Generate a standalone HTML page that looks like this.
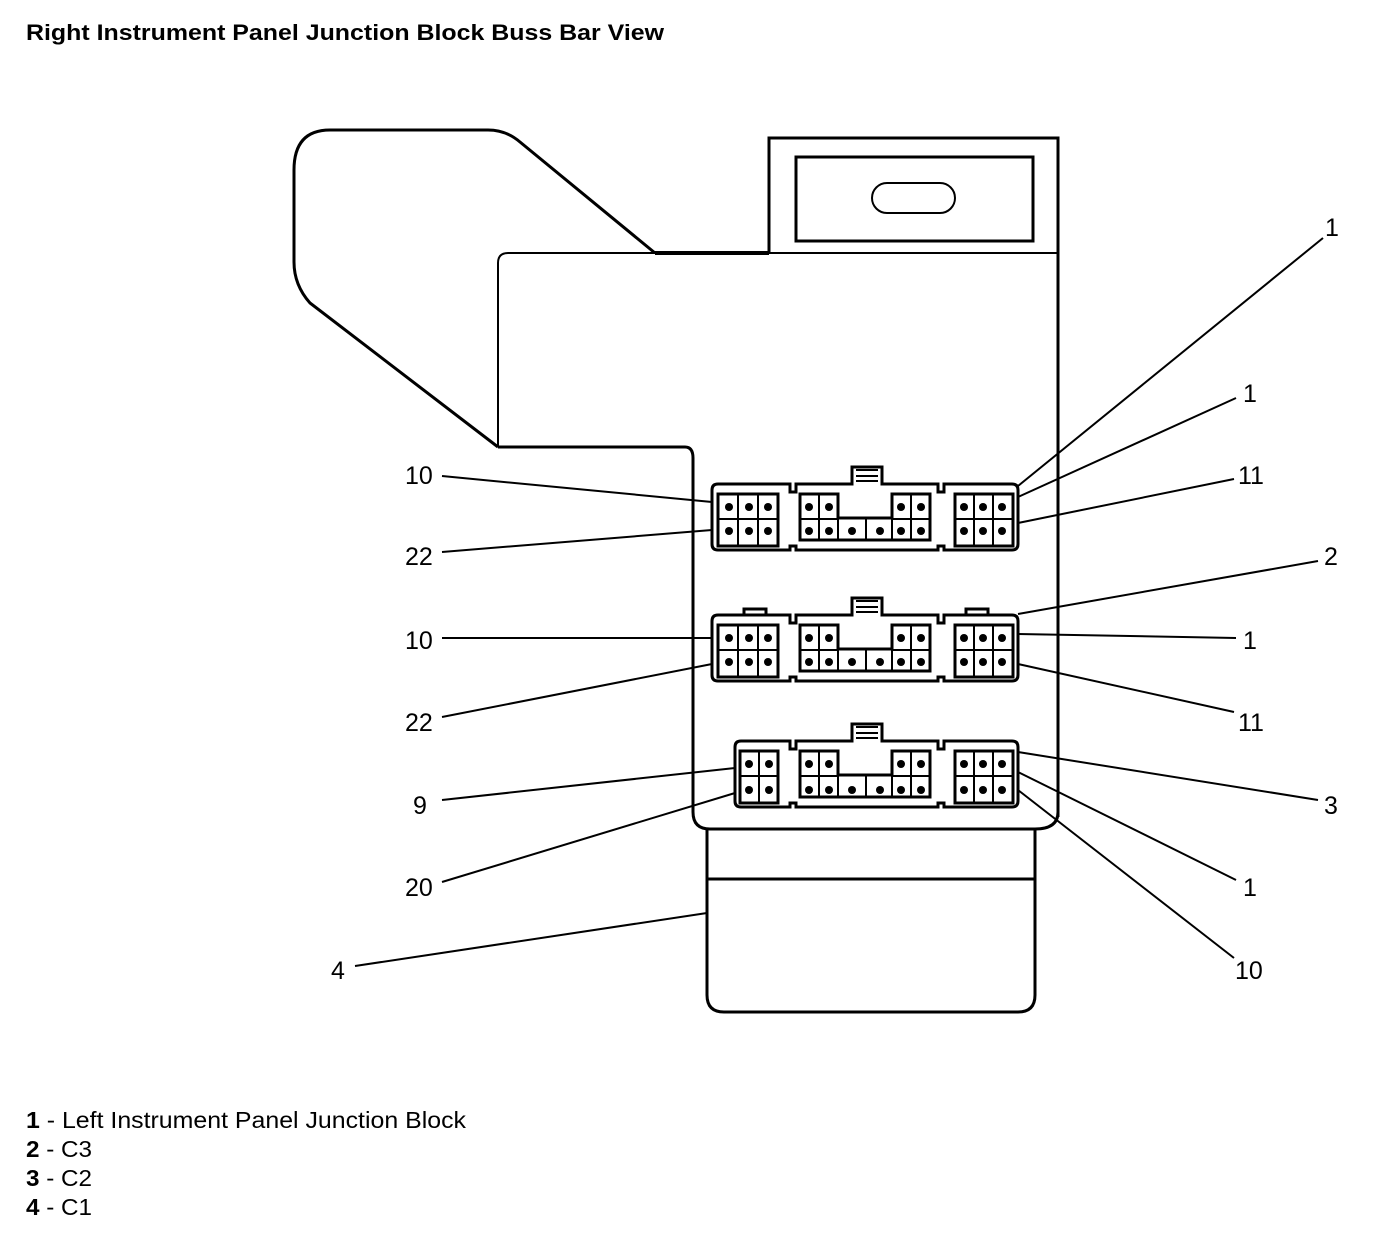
<!DOCTYPE html>
<html><head><meta charset="utf-8"><style>
html,body{margin:0;padding:0;background:#fff;}
svg{display:block;}
text{font-family:"Liberation Sans",Arial,sans-serif;fill:#000;}
</style></head><body>
<svg width="1392" height="1234" viewBox="0 0 1392 1234" xmlns="http://www.w3.org/2000/svg">
<defs>
<g id="conA" fill="none" stroke="#000">
  <path d="M718,484 H790 v8 h6 v-8 H852 v-17 h30 v17 H938 v8 h6 v-8 H1012 q6,0 6,6 V544 q0,6 -6,6 H944 v-4 h-6 v4 H796 v-4 h-6 v4 H718 q-6,0 -6,-6 V490 q0,-6 6,-6 Z" stroke-width="3"/>
  <path d="M856,470 h22 M856,476 h22 M856,481 h22" stroke-width="2"/>
  <rect x="718" y="494" width="60" height="52" stroke-width="3"/>
  <path d="M738,494 V546 M758,494 V546 M718,519 H778" stroke-width="2"/>
  <path d="M800,540 V494 H838 V518 H892 V494 H930 V540 Z" stroke-width="3"/>
  <path d="M819,494 V540 M838,518 V540 M866,518 V540 M892,518 V540 M911,494 V540 M800,519 H838 M892,519 H930" stroke-width="2"/>
  <rect x="955" y="494" width="58" height="52" stroke-width="3"/>
  <path d="M974,494 V546 M993,494 V546 M955,519 H1013" stroke-width="2"/>
  <g fill="#000" stroke="none">
    <circle cx="729" cy="507" r="4"/><circle cx="749" cy="507" r="4"/><circle cx="768" cy="507" r="4"/>
    <circle cx="729" cy="531" r="4"/><circle cx="749" cy="531" r="4"/><circle cx="768" cy="531" r="4"/>
    <circle cx="809" cy="507" r="4"/><circle cx="829" cy="507" r="4"/><circle cx="901" cy="507" r="4"/><circle cx="921" cy="507" r="4"/>
    <circle cx="809" cy="531" r="4"/><circle cx="829" cy="531" r="4"/><circle cx="852" cy="531" r="4"/><circle cx="880" cy="531" r="4"/><circle cx="901" cy="531" r="4"/><circle cx="921" cy="531" r="4"/>
    <circle cx="964" cy="507" r="4"/><circle cx="983" cy="507" r="4"/><circle cx="1002" cy="507" r="4"/>
    <circle cx="964" cy="531" r="4"/><circle cx="983" cy="531" r="4"/><circle cx="1002" cy="531" r="4"/>
  </g>
</g>
</defs>

<text x="26" y="40" font-size="22" font-weight="bold" textLength="638" lengthAdjust="spacingAndGlyphs">Right Instrument Panel Junction Block Buss Bar View</text>

<g fill="none" stroke="#000">
  <path d="M655,253 L520,142 Q506,130 488,130 H330 Q294,130 294,170 V262 Q294,285 310,303 L498,447" stroke-width="3"/>
  <path d="M655,253 H769" stroke-width="4"/>
  <path d="M769,253 V138 H1058 V817" stroke-width="3"/>
  <rect x="796" y="157" width="237" height="84" stroke-width="3"/>
  <rect x="872" y="183" width="83" height="30" rx="15" stroke-width="2"/>
  <path d="M769,253 H1058" stroke-width="2"/>
  <path d="M498,447 V263 Q498,253 508,253 H655" stroke-width="2"/>
  <path d="M498,447 H685 Q693,447 693,458 V812 Q693,829 710,829 H1035 Q1058,829 1058,812" stroke-width="3"/>
  <path d="M707,829 V995 Q707,1012 724,1012 H1018 Q1035,1012 1035,995 V829" stroke-width="3"/>
  <path d="M707,879 H1035" stroke-width="3"/>
</g>

<use href="#conA"/>
<g transform="translate(0,131)">
  <use href="#conA"/>
  <path d="M744,484 v-6 h22 v6 M966,484 v-6 h22 v6" fill="none" stroke="#000" stroke-width="3"/>
</g>
<g transform="translate(0,257)">
  <g fill="none" stroke="#000">
    <path d="M741,484 H790 v8 h6 v-8 H852 v-17 h30 v17 H938 v8 h6 v-8 H1012 q6,0 6,6 V544 q0,6 -6,6 H944 v-4 h-6 v4 H796 v-4 h-6 v4 H741 q-6,0 -6,-6 V490 q0,-6 6,-6 Z" stroke-width="3"/>
    <path d="M856,470 h22 M856,476 h22 M856,481 h22" stroke-width="2"/>
    <rect x="740" y="494" width="38" height="52" stroke-width="3"/>
    <path d="M759,494 V546 M740,519 H778" stroke-width="2"/>
    <path d="M800,540 V494 H838 V518 H892 V494 H930 V540 Z" stroke-width="3"/>
    <path d="M819,494 V540 M838,518 V540 M866,518 V540 M892,518 V540 M911,494 V540 M800,519 H838 M892,519 H930" stroke-width="2"/>
    <rect x="955" y="494" width="58" height="52" stroke-width="3"/>
    <path d="M974,494 V546 M993,494 V546 M955,519 H1013" stroke-width="2"/>
  </g>
  <g fill="#000">
    <circle cx="749" cy="507" r="4"/><circle cx="769" cy="507" r="4"/>
    <circle cx="749" cy="533" r="4"/><circle cx="769" cy="533" r="4"/>
    <circle cx="809" cy="507" r="4"/><circle cx="829" cy="507" r="4"/><circle cx="901" cy="507" r="4"/><circle cx="921" cy="507" r="4"/>
    <circle cx="809" cy="533" r="4"/><circle cx="829" cy="533" r="4"/><circle cx="852" cy="533" r="4"/><circle cx="880" cy="533" r="4"/><circle cx="901" cy="533" r="4"/><circle cx="921" cy="533" r="4"/>
    <circle cx="964" cy="507" r="4"/><circle cx="983" cy="507" r="4"/><circle cx="1002" cy="507" r="4"/>
    <circle cx="964" cy="533" r="4"/><circle cx="983" cy="533" r="4"/><circle cx="1002" cy="533" r="4"/>
  </g>
</g>

<g stroke="#000" stroke-width="2" fill="none">
  <path d="M442,476 L712,502"/>
  <path d="M442,552 L712,530"/>
  <path d="M1323,238 L1018,486"/>
  <path d="M1236,398 L1018,497"/>
  <path d="M1234,479 L1018,523"/>
  <path d="M1318,561 L1018,614"/>
  <path d="M442,638 L712,638"/>
  <path d="M1236,638 L1018,634"/>
  <path d="M442,717 L712,664"/>
  <path d="M1234,712 L1018,664"/>
  <path d="M442,800 L735,768"/>
  <path d="M1318,800 L1018,752"/>
  <path d="M442,882 L735,793"/>
  <path d="M1236,880 L1018,772"/>
  <path d="M355,966 L707,913"/>
  <path d="M1234,958 L1018,790"/>
</g>

<g font-size="25">
  <text x="405" y="484">10</text>
  <text x="405" y="565">22</text>
  <text x="1325" y="236">1</text>
  <text x="1243" y="402">1</text>
  <text x="1238" y="484">11</text>
  <text x="1324" y="565">2</text>
  <text x="405" y="649">10</text>
  <text x="1243" y="649">1</text>
  <text x="405" y="731">22</text>
  <text x="1238" y="731">11</text>
  <text x="413" y="814">9</text>
  <text x="1324" y="814">3</text>
  <text x="405" y="896">20</text>
  <text x="1243" y="896">1</text>
  <text x="331" y="979">4</text>
  <text x="1235" y="979">10</text>
</g>

<g font-size="23">
  <text x="26" y="1128" textLength="440" lengthAdjust="spacingAndGlyphs"><tspan font-weight="bold">1</tspan> - Left Instrument Panel Junction Block</text>
  <text x="26" y="1157" textLength="66" lengthAdjust="spacingAndGlyphs"><tspan font-weight="bold">2</tspan> - C3</text>
  <text x="26" y="1186" textLength="66" lengthAdjust="spacingAndGlyphs"><tspan font-weight="bold">3</tspan> - C2</text>
  <text x="26" y="1215" textLength="66" lengthAdjust="spacingAndGlyphs"><tspan font-weight="bold">4</tspan> - C1</text>
</g>
</svg>
</body></html>
